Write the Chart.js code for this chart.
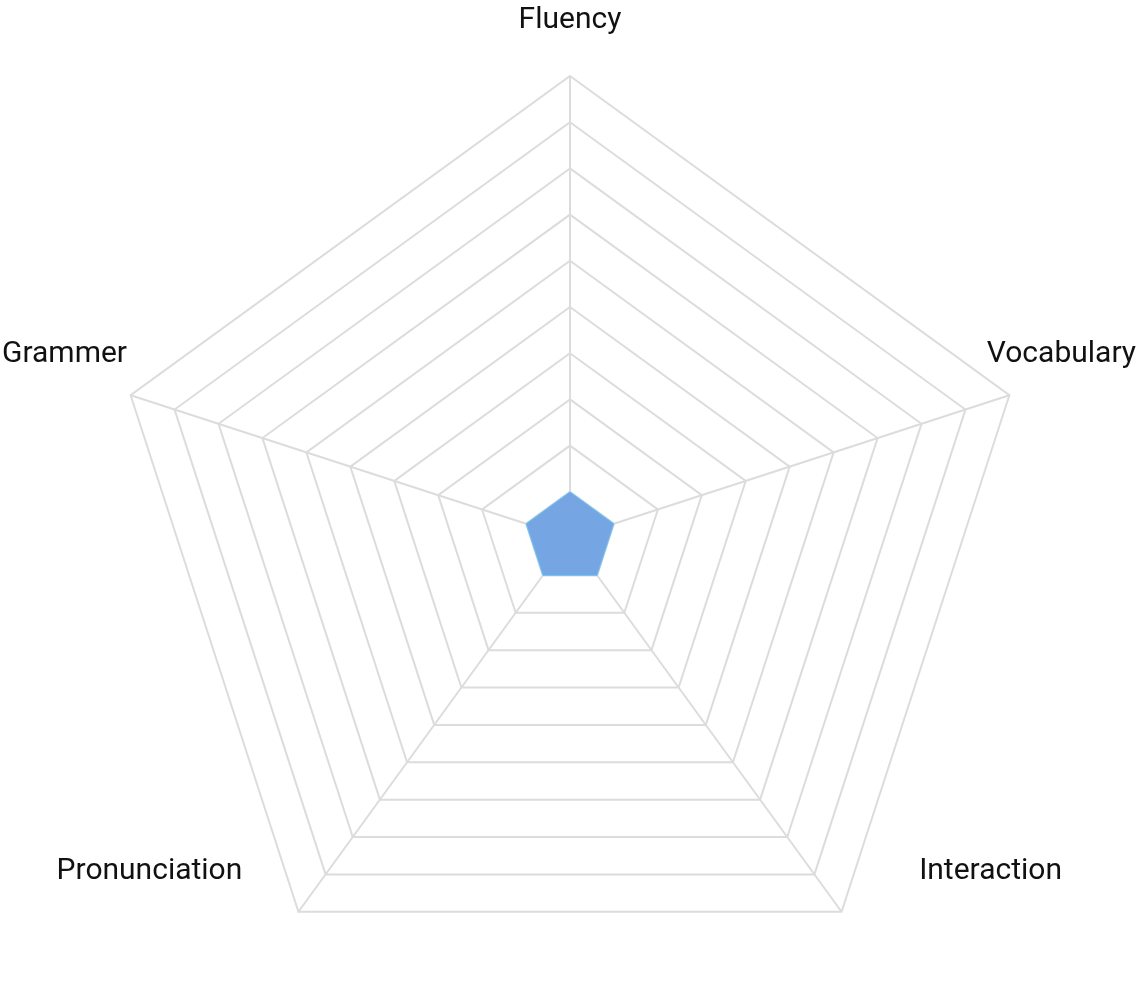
<!DOCTYPE html>
<html>
<head>
<meta charset="utf-8">
<script src="https://cdn.jsdelivr.net/npm/chart.js@4/dist/chart.umd.min.js"></script>
<style>
  html, body { margin: 0; padding: 0; background: #fff; }
  #wrap { width: 1141px; height: 1002px; }
</style>
</head>
<body>
<div id="wrap"><canvas id="grafico"></canvas></div>
<script>
const categorias = ["Fluency", "Vocabulary", "Interaction", "Pronunciation", "Grammer"];
const puntajes = [1, 1, 1, 1, 1];
const escalaMin = 0;
const escalaMax = 10;
const paso = 1;

const ctx = document.getElementById("grafico").getContext("2d");

// etiquetas encima de cada vértice, desplazadas hacia afuera
const etiquetas = {
  id: "etiquetas",
  afterDraw(chart) {
    const r = chart.scales.r;
    const c = chart.ctx;
    c.save();
    c.font = "30px Roboto";
    c.fillStyle = "#111";
    c.textAlign = "left";
    c.textBaseline = "alphabetic";
    categorias.forEach((txt, i) => {
      const ang = r.getIndexAngle(i);
      const p = r.getPointPosition(i, r.drawingArea);
      const w = c.measureText(txt).width;
      const s = Math.sin(ang);
      const centro = Math.abs(s) < 0.01 ? p.x : p.x + Math.sign(s) * 149;
      let x = centro - w / 2;
      x = Math.max(2, Math.min(chart.width - 5 - w, x));
      const y = p.y - (Math.cos(ang) > 0.99 ? 48 : 33);
      c.fillText(txt, x, y);
    });
    c.restore();
  }
};

new Chart(ctx, {
  type: "radar",
  data: {
    labels: categorias,
    datasets: [{
      label: "Score",
      data: puntajes,
      backgroundColor: "#76a5e3",
      borderColor: "#6cc6f2",
      borderWidth: 1,
      pointRadius: 0,
      fill: true
    }]
  },
  options: {
    responsive: true,
    maintainAspectRatio: false,
    animation: false,
    layout: { padding: { top: 76, bottom: 2, left: 0, right: 1 } },
    plugins: {
      legend: { display: false },
      tooltip: { enabled: false }
    },
    scales: {
      r: {
        min: escalaMin,
        max: escalaMax,
        ticks: { stepSize: paso, display: false },
        grid: { color: "#dcdcdc", lineWidth: 2 },
        angleLines: { color: "#dcdcdc", lineWidth: 2 },
        pointLabels: { display: false }
      }
    }
  },
  plugins: [etiquetas]
});
</script>
</body>
</html>
